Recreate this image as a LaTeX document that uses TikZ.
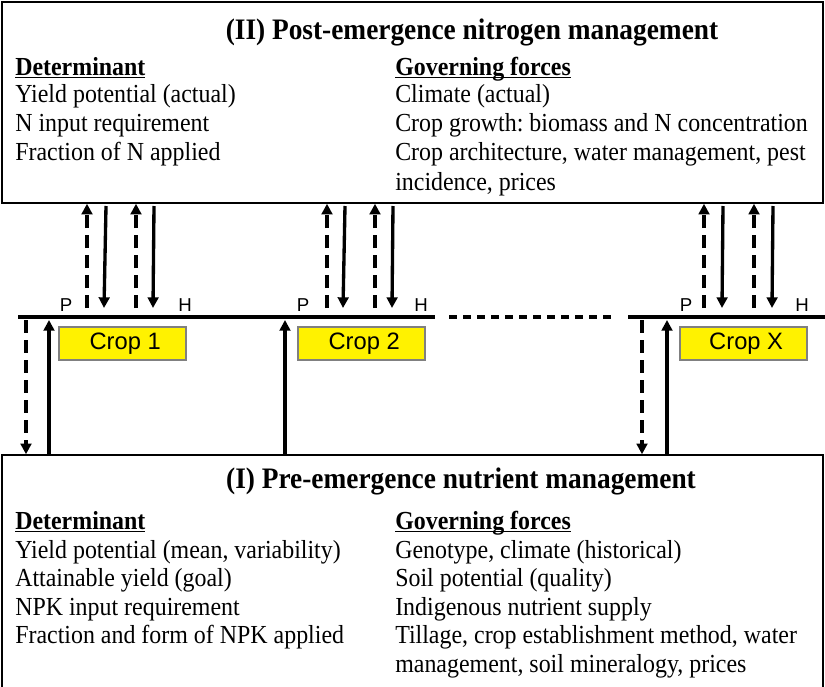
\documentclass[tikz,border=0pt]{standalone}
\usepackage{fontspec}
\setmainfont{Liberation Serif}[FakeStretch=0.92]
\newfontfamily\arial{Liberation Sans}
\usetikzlibrary{arrows.meta,positioning}
\newcommand\headline[1]{\underline{\smash{\textbf{#1}}}}

\tikzset{
  panel/.style={draw, line width=1.1pt, inner sep=0pt, minimum width=615.75pt},
  heading/.style={anchor=base, font=\fontsize{22.3}{26}\selectfont\bfseries},
  txt/.style={anchor=base west, inner sep=0pt, font=\fontsize{19.5}{23}\selectfont},
  crop/.style={draw=gray, fill=yellow, line width=0.8pt, minimum width=95.25pt, minimum height=24.75pt, inner sep=0pt, font=\arial\fontsize{17.8}{20}\selectfont},
  ph/.style={anchor=base, inner sep=0pt, font=\arial\fontsize{14}{16}\selectfont},
  flow/.style={line width=2.5pt, -{Triangle[length=8pt,width=8pt]}},
  dflow/.style={flow, dash pattern=on 10pt off 5pt},
  season/.style={line width=2.6pt}
}

\begin{document}
\begin{tikzpicture}[x=0.75pt,y=-0.75pt]
	\clip (0,0) rectangle (825,686);
	\useasboundingbox (0,0) rectangle (825,686);
	
	% (II) post-emergence box
	\node[panel, minimum height=150.75pt] (post) at (412.5,102.5) {};
	\node[heading] (postT) at (472,39) {(II) Post-emergence nitrogen management};
	\node[txt] (postD)  at (15,75)  {\headline{Determinant}};
	\node[txt] (postD1) at (15,102) {Yield potential (actual)};
	\node[txt] (postD2) at (15,131) {N input requirement};
	\node[txt] (postD3) at (15,160) {Fraction of N applied};
	\node[txt] (postG)  at (395,75)  {\headline{Governing forces}};
	\node[txt] (postG1) at (395,102) {Climate (actual)};
	\node[txt] (postG2) at (395,131) {Crop growth:\ biomass and N concentration};
	\node[txt] (postG3) at (395,160) {Crop architecture,\ water management,\ pest};
	\node[txt] (postG4) at (395,190) {incidence,\ prices};
	
	% (I) pre-emergence box
	\node[panel, minimum height=183.75pt] (pre) at (412.5,577.5) {};
	\node[heading] (preT) at (461,488) {(I) Pre-emergence nutrient management};
	\node[txt] (preD)  at (15,529) {\headline{Determinant}};
	\node[txt] (preD1) at (15,558) {Yield potential (mean, variability)};
	\node[txt] (preD2) at (15,586) {Attainable yield (goal)};
	\node[txt] (preD3) at (15,615) {NPK input requirement};
	\node[txt] (preD4) at (15,643) {Fraction and form of NPK applied};
	\node[txt] (preG)  at (395,529) {\headline{Governing forces}};
	\node[txt] (preG1) at (395,558) {Genotype, climate (historical)};
	\node[txt] (preG2) at (395,586) {Soil potential (quality)};
	\node[txt] (preG3) at (395,615) {Indigenous nutrient supply};
	\node[txt] (preG4) at (395,643) {Tillage, crop establishment method, water};
	\node[txt] (preG5) at (395,672) {management, soil mineralogy, prices};
	
	% season line
	\coordinate (s1) at (18,317);
	\coordinate (s2) at (435,317);
	\coordinate (s3) at (449,317);
	\coordinate (s4) at (617,317);
	\coordinate (s5) at (628,317);
	\coordinate (s6) at (825,317);
	\draw[season] (s1) -- (s2);
	\draw[season, dash pattern=on 6pt off 4.5pt] (s3) -- (s4);
	\draw[season] (s5) -- (s6);
	
	% crops
	\node[crop] (crop1) at (122.5,343.5) {\hspace{4pt}Crop 1};
	\node[crop] (crop2) at (361.5,343.5) {\hspace{4pt}Crop 2};
	\node[crop] (cropX) at (743.5,343.5) {\hspace{4pt}Crop X};
	\node[ph] (P1) at (66,311)  {P};
	\node[ph] (H1) at (185,311) {H};
	\node[ph] (P2) at (303,311) {P};
	\node[ph] (H2) at (421,311) {H};
	\node[ph] (PX) at (686,311) {P};
	\node[ph] (HX) at (802,311) {H};
	
	% crop 1 <-> box II
	\coordinate (u1a) at (87,308);   \coordinate (u1b) at (136,308);
	\coordinate (d1a) at (104,308);  \coordinate (d1b) at (153,308);
	\coordinate (t1a) at (106,206);  \coordinate (t1b) at (154,206);
	\draw[dflow] (u1a) -- (u1a |- post.south);
	\draw[dflow] (u1b) -- (u1b |- post.south);
	\draw[flow] (t1a) -- (d1a);
	\draw[flow] (t1b) -- (d1b);
	
	% crop 2 <-> box II
	\coordinate (u2a) at (327,308);  \coordinate (u2b) at (375,308);
	\coordinate (d2a) at (343,308);  \coordinate (d2b) at (392,308);
	\coordinate (t2a) at (345,206);  \coordinate (t2b) at (393,206);
	\draw[dflow] (u2a) -- (u2a |- post.south);
	\draw[dflow] (u2b) -- (u2b |- post.south);
	\draw[flow] (t2a) -- (d2a);
	\draw[flow] (t2b) -- (d2b);
	
	% crop X <-> box II
	\coordinate (uXa) at (704,308);  \coordinate (uXb) at (754,308);
	\coordinate (dXa) at (722,308);  \coordinate (dXb) at (772,308);
	\coordinate (tXa) at (723,206);  \coordinate (tXb) at (773,206);
	\draw[dflow] (uXa) -- (uXa |- post.south);
	\draw[dflow] (uXb) -- (uXb |- post.south);
	\draw[flow] (tXa) -- (dXa);
	\draw[flow] (tXb) -- (dXb);
	
	% box I <-> season line
	\coordinate (b1a) at (26,320);   \coordinate (b1b) at (49,320);
	\coordinate (b2b) at (285,320);
	\coordinate (bXa) at (642,320);  \coordinate (bXb) at (667,320);
	\draw[dflow] (b1a) -- (b1a |- pre.north);
	\draw[flow] (b1b |- pre.north) -- (b1b);
	\draw[flow] (b2b |- pre.north) -- (b2b);
	\draw[dflow] (bXa) -- (bXa |- pre.north);
	\draw[flow] (bXb |- pre.north) -- (bXb);
\end{tikzpicture}
\end{document}
